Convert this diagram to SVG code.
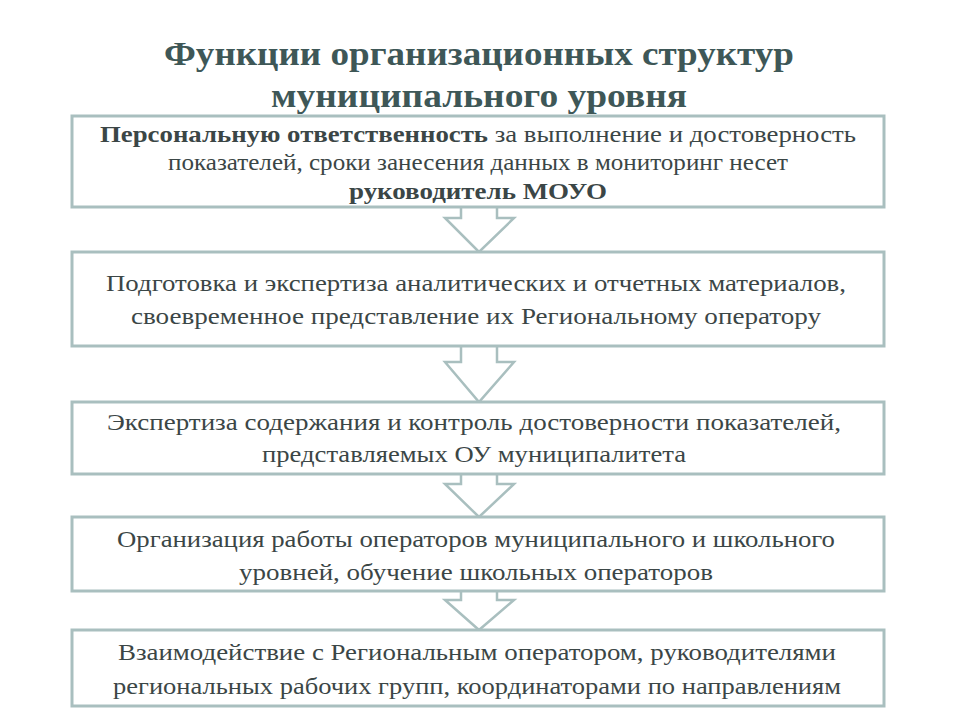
<svg xmlns="http://www.w3.org/2000/svg" width="960" height="720" viewBox="0 0 960 720">
<style>
.box{fill:#fff;stroke:#a9bfbf;stroke-width:3}
.arr{fill:#fff;stroke:#a9bfbf;stroke-width:2.5;stroke-linejoin:miter}
.t{font-family:"Liberation Serif",serif;font-size:24px;fill:#3b4646;text-anchor:middle}
.b{font-weight:bold}
.title{font-family:"Liberation Serif",serif;font-size:34px;font-weight:bold;fill:#3e5757;text-anchor:middle}
</style>
<rect width="960" height="720" fill="#fff"/>
<g id="title">
<text class="title" x="479" y="65" textLength="630" lengthAdjust="spacingAndGlyphs">Функции организационных структур</text>
<text class="title" x="479" y="107" textLength="416" lengthAdjust="spacingAndGlyphs">муниципального уровня</text>
</g>
<g id="connectors">
<path class="arr" d="M461 206 V218 H445 L479 252 L514 218 H497 V206"/>
<path class="arr" d="M461 345 V362 H445 L479 402 L514 362 H497 V345"/>
<path class="arr" d="M461 473 V484 H445 L479 517 L514 484 H497 V473"/>
<path class="arr" d="M461 590 V600 H445 L479 630 L514 600 H497 V590"/>
</g>
<g id="n1">
<rect class="box" x="72" y="116" width="812" height="91"/>
<text class="t" x="478" y="142" textLength="756" lengthAdjust="spacingAndGlyphs"><tspan class="b">Персональную ответственность</tspan> за выполнение и достоверность</text>
<text class="t" x="478" y="170" textLength="620" lengthAdjust="spacingAndGlyphs">показателей, сроки занесения данных в мониторинг несет</text>
<text class="t b" x="478" y="199" textLength="258" lengthAdjust="spacingAndGlyphs">руководитель МОУО</text>
</g>
<g id="n2">
<rect class="box" x="72" y="252" width="812" height="94"/>
<text class="t" x="476" y="291" textLength="740" lengthAdjust="spacingAndGlyphs">Подготовка и экспертиза аналитических и отчетных материалов,</text>
<text class="t" x="476" y="324" textLength="690" lengthAdjust="spacingAndGlyphs">своевременное представление их Региональному оператору</text>
</g>
<g id="n3">
<rect class="box" x="72" y="402" width="812" height="72"/>
<text class="t" x="474" y="430" textLength="734" lengthAdjust="spacingAndGlyphs">Экспертиза содержания и  контроль достоверности показателей,</text>
<text class="t" x="474" y="462" textLength="424" lengthAdjust="spacingAndGlyphs">представляемых ОУ муниципалитета</text>
</g>
<g id="n4">
<rect class="box" x="72" y="517" width="812" height="74"/>
<text class="t" x="476" y="547" textLength="718" lengthAdjust="spacingAndGlyphs">Организация работы операторов муниципального и школьного</text>
<text class="t" x="476" y="580" textLength="474" lengthAdjust="spacingAndGlyphs">уровней, обучение школьных операторов</text>
</g>
<g id="n5">
<rect class="box" x="72" y="630" width="812" height="76"/>
<text class="t" x="477" y="660" textLength="718" lengthAdjust="spacingAndGlyphs">Взаимодействие с Региональным оператором, руководителями</text>
<text class="t" x="477" y="694" textLength="728" lengthAdjust="spacingAndGlyphs">региональных рабочих групп, координаторами по направлениям</text>
</g>
</svg>
